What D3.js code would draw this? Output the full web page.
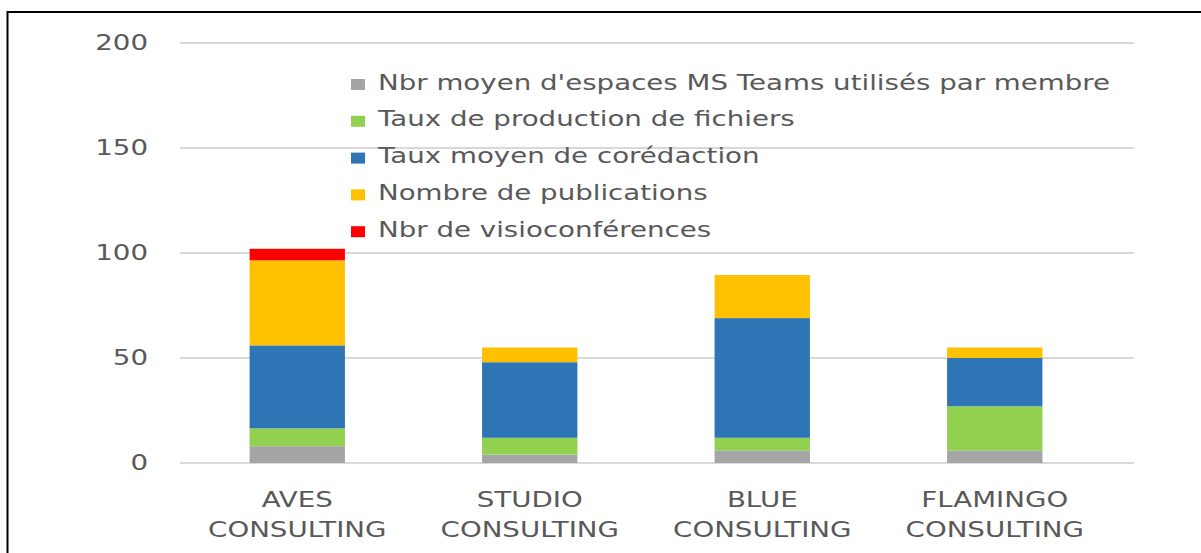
<!DOCTYPE html>
<html>
<head>
<meta charset="utf-8">
<script src="https://cdn.jsdelivr.net/npm/d3@7"></script>
<style>
  html, body { margin: 0; padding: 0; background: #fff; }
  svg { display: block; }
  text { font-family: "DejaVu Sans", sans-serif; fill: #595959; font-size: 20.5px; }
</style>
</head>
<body>
<svg id="chart" width="1201" height="553"></svg>
<script>
// Companies compared
const categories = ["AVES CONSULTING", "STUDIO CONSULTING", "BLUE CONSULTING", "FLAMINGO CONSULTING"];

// Stacked series, bottom to top
const espacesTeams = [8, 4, 6, 6];
const productionFichiers = [8.5, 8, 6, 21];
const coredaction = [39.5, 36, 57, 23];
const publications = [40.5, 7, 20.5, 5];
const visioconferences = [5.5, 0, 0, 0];

const seriesNames = [
  "Nbr moyen d'espaces MS Teams utilisés par membre",
  "Taux de production de fichiers",
  "Taux moyen de corédaction",
  "Nombre de publications",
  "Nbr de visioconférences"
];
const seriesColors = ["#a5a5a5", "#92d050", "#2e75b6", "#ffc000", "#ff0000"];
const yTicks = [0, 50, 100, 150, 200];

const seriesValues = [espacesTeams, productionFichiers, coredaction, publications, visioconferences];
const keys = seriesNames;
const rows = categories.map((c, i) => {
  const r = { category: c };
  keys.forEach((k, s) => { r[k] = seriesValues[s][i]; });
  return r;
});
const stacked = d3.stack().keys(keys)(rows);

const svg = d3.select("#chart");
const stretch = 1.35; // horizontally widened lettering

function label(sel, x, y) {
  sel.attr("transform", `translate(${x},${y}) scale(${stretch},1)`);
}

// Outer frame (top and left edges visible)
svg.append("line").attr("x1", 7).attr("x2", 1201).attr("y1", 12).attr("y2", 12)
  .attr("stroke", "#000").attr("stroke-width", 2);
svg.append("line").attr("x1", 7.5).attr("x2", 7.5).attr("y1", 11).attr("y2", 553)
  .attr("stroke", "#000").attr("stroke-width", 2);

const y = d3.scaleLinear().domain([0, 200]).range([463, 43]);
const x = d3.scaleBand().domain(categories).range([181, 1111]).padding(0);
const barFrac = 0.41;

// Gridlines
svg.append("g").selectAll("line").data(yTicks).join("line")
  .attr("x1", 180).attr("x2", 1134)
  .attr("y1", d => y(d)).attr("y2", d => y(d))
  .attr("stroke", "#d9d9d9").attr("stroke-width", 2);

// Y tick labels
svg.append("g").selectAll("text").data(yTicks).join("text")
  .attr("text-anchor", "end")
  .text(d => d)
  .each(function(d) { label(d3.select(this), 148, y(d) + 7); });

// Stacked bars
svg.append("g").selectAll("g").data(stacked).join("g")
  .attr("fill", (d, i) => seriesColors[i])
  .selectAll("rect").data(d => d.filter(p => p[1] - p[0] > 0)).join("rect")
  .attr("x", d => x(d.data.category) + x.bandwidth() * (1 - barFrac) / 2)
  .attr("width", x.bandwidth() * barFrac)
  .attr("y", d => y(d[1]))
  .attr("height", d => y(d[0]) - y(d[1]));

// Category labels on two lines
const cat = svg.append("g").selectAll("g").data(categories).join("g");
cat.each(function(c) {
  const g = d3.select(this);
  const cx = x(c) + x.bandwidth() / 2;
  c.split(" ").forEach((w, i) => {
    g.append("text").attr("text-anchor", "middle")
      .text(w).call(label, cx, 507 + i * 30);
  });
});

// Legend
const legend = svg.append("g").selectAll("g").data(seriesNames).join("g");
legend.append("rect")
  .attr("x", 351).attr("y", (d, i) => 79 + i * 36.8)
  .attr("width", 14).attr("height", 11)
  .attr("fill", (d, i) => seriesColors[i]);
legend.append("text")
  .text(d => d)
  .each(function(d, i) { label(d3.select(this), 378, 89.5 + i * 36.8); });
</script>
</body>
</html>
